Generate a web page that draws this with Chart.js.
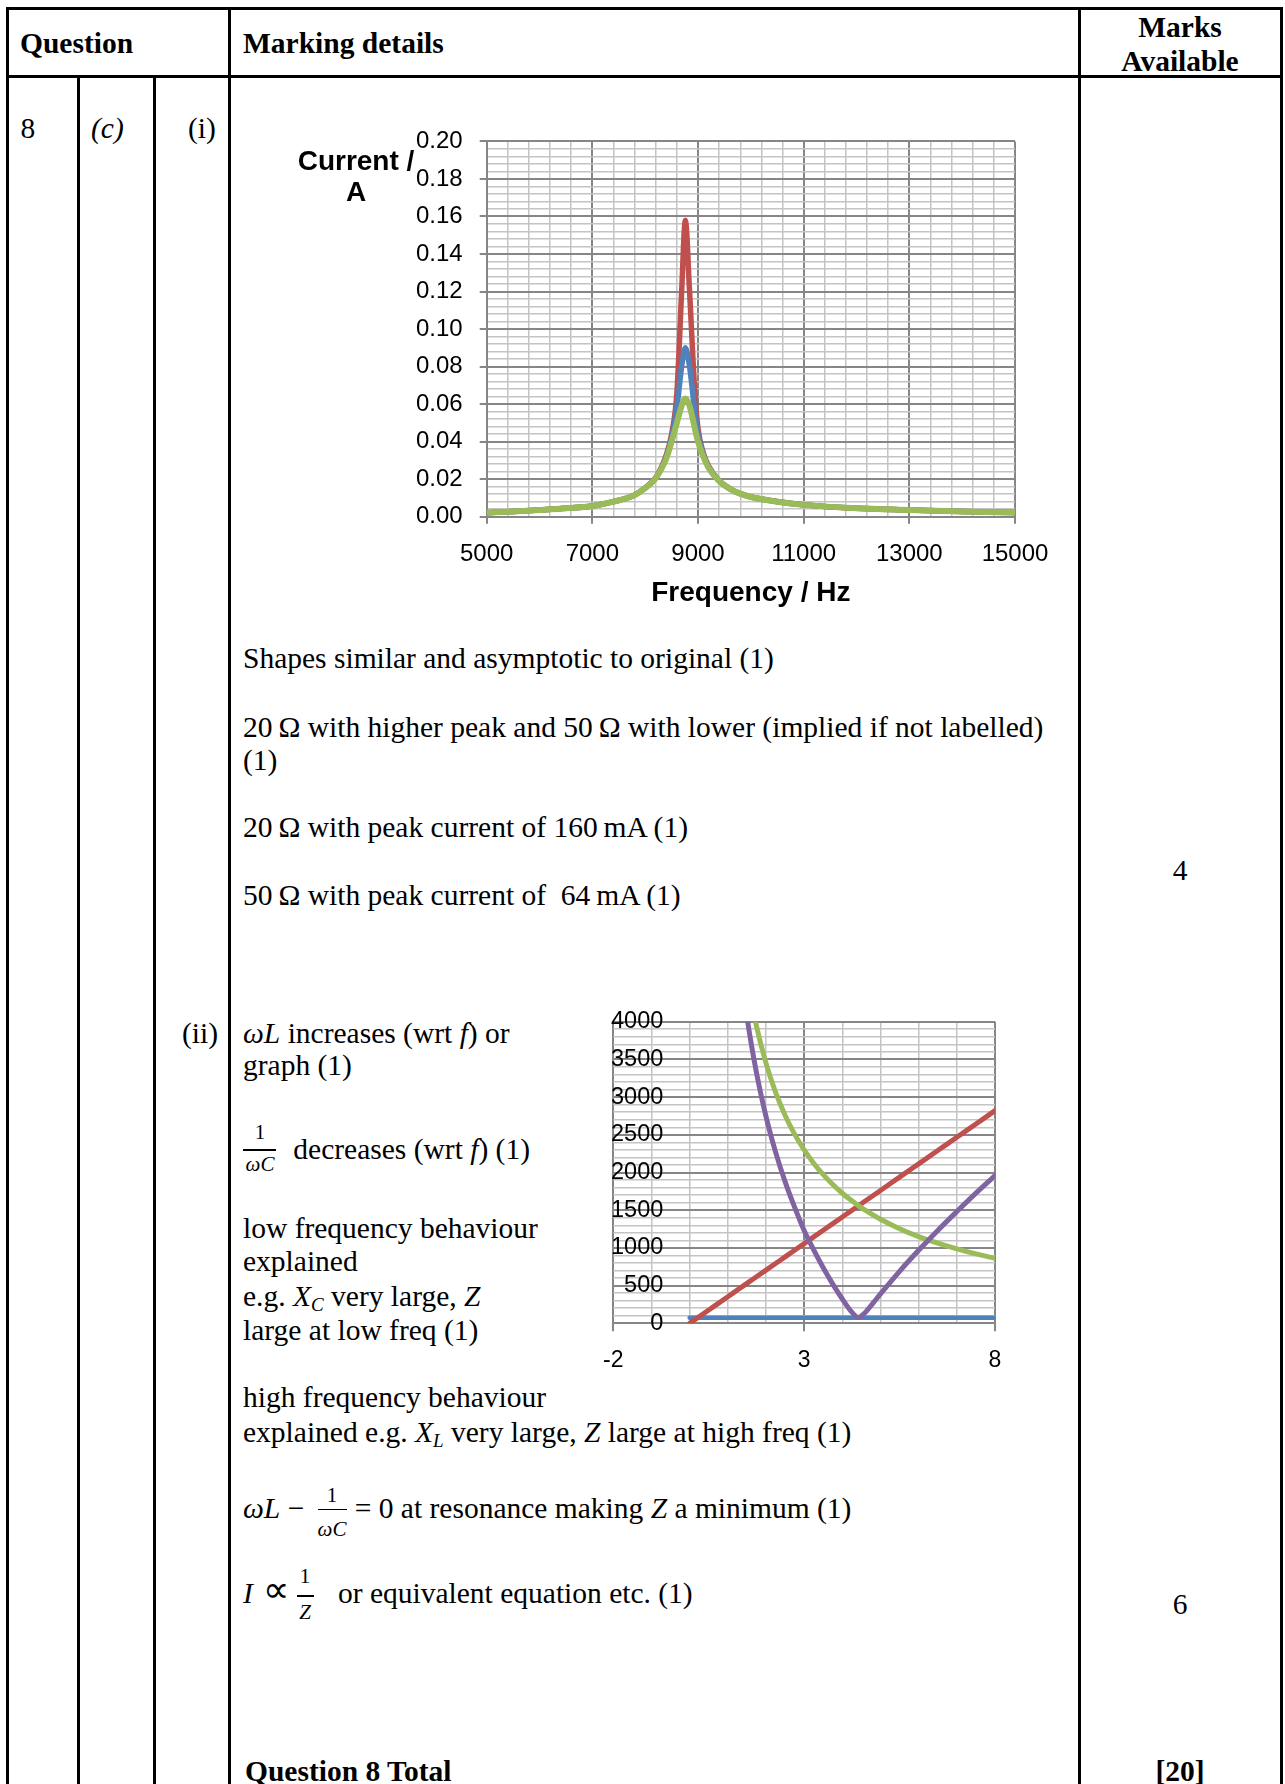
<!DOCTYPE html>
<html>
<head>
<meta charset="utf-8">
<script src="https://cdn.jsdelivr.net/npm/chart.js@4.4.1/dist/chart.umd.min.js"></script>
<style>
  html, body { margin: 0; padding: 0; background: #fff; }
  #page { position: relative; width: 1285px; height: 1784px; overflow: hidden;
          font-family: 'Liberation Serif', 'Times New Roman', serif; color: #000; }
  .ln { position: absolute; background: #000; }
  .t { position: absolute; font-size: 29.5px; line-height: 29.5px; white-space: nowrap; }
  .b { font-weight: bold; }
  .c { text-align: center; width: 200px; }
  .fr { position: absolute; font-size: 21px; line-height: 21px; width: 34px; text-align: center; white-space: nowrap; }
  .bar { position: absolute; background: #000; height: 1.6px; }
  sub { font-size: 19px; line-height: 0; vertical-align: -5px; }
  canvas { position: absolute; }
  .ax { position: absolute; z-index: 2; font-family: 'Liberation Sans', Arial, sans-serif; font-weight: bold;
        font-size: 28px; line-height: 31.7px; width: 200px; text-align: center; }
</style>
</head>
<body>
<div id="page">
  <!-- table rules -->
  <div class="ln" style="left:6px;top:7px;width:1276px;height:3px"></div>
  <div class="ln" style="left:6px;top:75px;width:1276px;height:3px"></div>
  <div class="ln" style="left:6px;top:7px;width:3px;height:1777px"></div>
  <div class="ln" style="left:77px;top:75px;width:3px;height:1709px"></div>
  <div class="ln" style="left:152.5px;top:75px;width:3px;height:1709px"></div>
  <div class="ln" style="left:228px;top:7px;width:3px;height:1777px"></div>
  <div class="ln" style="left:1078px;top:7px;width:3px;height:1777px"></div>
  <div class="ln" style="left:1279.5px;top:7px;width:3px;height:1777px"></div>

  <!-- header -->
  <div class="t b" style="left:20px;top:29.3px">Question</div>
  <div class="t b" style="left:243px;top:29.3px">Marking details</div>
  <div class="t b c" style="left:1080px;top:13px">Marks</div>
  <div class="t b c" style="left:1080px;top:47px">Available</div>

  <div class="t" style="left:20.5px;top:114.3px">8</div>
  <div class="t" style="left:91px;top:114.3px"><i>(c)</i></div>
  <div class="t" style="left:188px;top:114.3px">(i)</div>

  <!-- chart (i) -->
  <canvas id="currentChart" width="675" height="500" style="left:400px;top:110px"></canvas>
  <div class="ax" style="left:256px;top:144.5px">Current /<br>A</div>

  <div class="t" style="left:243px;top:643.6px">Shapes similar and asymptotic to original (1)</div>
  <div class="t" style="left:243px;top:712.8px">20&#8201;&Omega; with higher peak and 50&#8201;&Omega; with lower (implied if not labelled)</div>
  <div class="t" style="left:243px;top:746.2px">(1)</div>
  <div class="t" style="left:243px;top:813.2px">20&#8201;&Omega; with peak current of 160&#8201;mA (1)</div>
  <div class="t" style="left:243px;top:881.1px">50&#8201;&Omega; with peak current of &nbsp;64&#8201;mA (1)</div>
  <div class="t c" style="left:1080px;top:856px">4</div>

  <!-- part (ii) -->
  <div class="t" style="left:182px;top:1018.6px">(ii)</div>
  <div class="t" style="left:243px;top:1018.6px"><i>&omega;L</i> increases (wrt <i>f</i>) or</div>
  <div class="t" style="left:243px;top:1050.8px">graph (1)</div>

  <div class="fr" style="left:243px;top:1122px">1</div>
  <div class="bar" style="left:243.3px;top:1149px;width:32.7px"></div>
  <div class="fr" style="left:243px;top:1153.5px"><i>&omega;C</i></div>
  <div class="t" style="left:293.3px;top:1134.6px">decreases (wrt <i>f</i>) (1)</div>

  <div class="t" style="left:243px;top:1213.6px">low frequency behaviour</div>
  <div class="t" style="left:243px;top:1246.5px">explained</div>
  <div class="t" style="left:243px;top:1281.5px">e.g. <i>X</i><sub><i>C</i></sub> very large, <i>Z</i></div>
  <div class="t" style="left:243px;top:1315.8px">large at low freq (1)</div>

  <canvas id="reactanceChart" width="440" height="400" style="left:580px;top:990px"></canvas>

  <div class="t" style="left:243px;top:1383.1px">high frequency behaviour</div>
  <div class="t" style="left:243px;top:1417.6px">explained e.g. <i>X</i><sub><i>L</i></sub> very large, <i>Z</i> large at high freq (1)</div>

  <div class="t" style="left:243px;top:1494.3px"><i>&omega;L</i> &minus;</div>
  <div class="fr" style="left:315px;top:1485px">1</div>
  <div class="bar" style="left:317.6px;top:1508.5px;width:29px"></div>
  <div class="fr" style="left:315px;top:1518.5px"><i>&omega;C</i></div>
  <div class="t" style="left:354.7px;top:1494.3px">= 0 at resonance making <i>Z</i> a minimum (1)</div>

  <div class="t" style="left:243px;top:1578.6px"><i>I</i></div>
  <div style="position:absolute;left:263px;top:1571px;font-family:'DejaVu Sans';font-size:37px;line-height:37px">&prop;</div>
  <div class="fr" style="left:288px;top:1565.7px">1</div>
  <div class="bar" style="left:296.5px;top:1595px;width:17px;height:2.2px"></div>
  <div class="fr" style="left:288px;top:1602.4px"><i>Z</i></div>
  <div class="t" style="left:338px;top:1578.6px">or equivalent equation etc. (1)</div>
  <div class="t c" style="left:1080px;top:1590.3px">6</div>

  <div class="t b" style="left:245px;top:1756.8px">Question 8 Total</div>
  <div class="t b c" style="left:1080px;top:1757.3px">[20]</div>
</div>

<script>
// (i) current against frequency, three resistances
const freqHz = [5000, 5500, 6000, 6500, 7000, 7400, 7800, 8000, 8200, 8300,
                8400, 8500, 8600, 8690, 8760, 8840, 8940, 9000, 9100, 9200,
                9400, 9600, 9800, 10000, 10500, 11000, 12000, 13000, 14000, 15000];
const current20 = [0.0021, 0.0028, 0.0036, 0.0045, 0.0057, 0.0080, 0.0116, 0.0154, 0.0209, 0.0260,
                   0.033, 0.044, 0.066, 0.120, 0.158, 0.120, 0.066, 0.047, 0.034, 0.027,
                   0.0192, 0.0150, 0.0123, 0.0106, 0.0081, 0.0064, 0.0045, 0.0036, 0.0028, 0.0022];
const currentOrig = [0.0021, 0.0028, 0.0036, 0.0045, 0.0057, 0.0080, 0.0115, 0.0153, 0.0207, 0.0256,
                     0.032, 0.042, 0.058, 0.080, 0.090, 0.080, 0.056, 0.044, 0.033, 0.0265,
                     0.0191, 0.0149, 0.0122, 0.0105, 0.0080, 0.0063, 0.0045, 0.0036, 0.0028, 0.0022];
const current50 = [0.0021, 0.0028, 0.0036, 0.0045, 0.0057, 0.0080, 0.0115, 0.0152, 0.0205, 0.0252,
                   0.031, 0.040, 0.050, 0.059, 0.063, 0.059, 0.047, 0.040, 0.032, 0.026,
                   0.0190, 0.0148, 0.0122, 0.0105, 0.0080, 0.0063, 0.0045, 0.0036, 0.0028, 0.0022];

// (ii) reactances and impedance
const xVals = [0, 0.5, 1, 1.25, 1.5, 1.75, 2, 2.25, 2.5, 2.75, 3, 3.25, 3.5,
               3.75, 4, 4.25, 4.42, 4.6, 4.8, 5, 5.5, 6, 6.5, 7, 7.5, 8];
const resistance = [75, 75, 75, 75, 75, 75, 75, 75, 75, 75, 75, 75, 75,
                    75, 75, 75, 75, 75, 75, 75, 75, 75, 75, 75, 75, 75];
const reactL = [0, 176, 352, 441, 529, 617, 705, 793, 881, 969, 1057, 1146, 1234,
                1322, 1410, 1498, 1558, 1622, 1692, 1762, 1939, 2115, 2291, 2467, 2644, 2820];
const reactC = [null, null, null, 5520, 4600, 3943, 3450, 3067, 2760, 2509, 2300, 2123, 1971,
                1840, 1725, 1624, 1561, 1500, 1438, 1380, 1255, 1150, 1062, 986, 920, 862];
const impedance = [null, null, null, 5080, 4071, 3326, 2745, 2274, 1879, 1540, 1230, 975, 737,
                   520, 322, 148, 78, 143, 265, 390, 690, 968, 1232, 1482, 1726, 1960];

const MAJOR = '#868686';
const MINOR = '#c4c4c4';

function pts(xs, ys) {
    return xs.map((x, i) => ({ x: x, y: ys[i] })).filter(p => p.y !== null);
}
function stepTicks(min, max, step) {
    const out = [];
    for (let v = min; v <= max + step / 2; v += step) out.push({ value: +v.toFixed(6) });
    return out;
}
function gridFor(isMajor, tickLen) {
    return {
        color: ctx => (ctx.tick && isMajor(ctx.tick.value)) ? MAJOR : MINOR,
        lineWidth: ctx => (ctx.tick && isMajor(ctx.tick.value)) ? 2 : 1.5,
        tickColor: ctx => (ctx.tick && isMajor(ctx.tick.value)) ? MAJOR : 'rgba(0,0,0,0)',
        tickLength: tickLen,
        drawTicks: tickLen > 0
    };
}
function line(label, data, color, width, order) {
    return {
        label: label, data: data, borderColor: color, backgroundColor: color,
        borderWidth: width, pointRadius: 0, fill: false, order: order,
        cubicInterpolationMode: 'monotone', borderCapStyle: 'round', borderJoinStyle: 'round'
    };
}

const majX1 = v => Math.round(v - 5000) % 2000 === 0;
const majY1 = v => Math.round(v * 1000) % 20 === 0;
const majX2 = v => (Math.round(v) + 2) % 5 === 0;
const majY2 = v => Math.round(v) % 500 === 0;

new Chart(document.getElementById('currentChart'), {
    type: 'line',
    data: {
        datasets: [
            line('20 Ω', pts(freqHz, current20), '#C0504D', 5.5, 3),
            line('original', pts(freqHz, currentOrig), '#4F81BD', 5.5, 2),
            line('50 Ω', pts(freqHz, current50), '#9BBB59', 6, 1)
        ]
    },
    options: {
        responsive: false, animation: false, devicePixelRatio: 1,
        layout: { padding: { left: 0, top: 30.7, right: 60, bottom: 0 } },
        plugins: { legend: { display: false }, tooltip: { enabled: false } },
        scales: {
            x: {
                type: 'linear', min: 5000, max: 15000,
                afterBuildTicks: a => { a.ticks = stepTicks(5000, 15000, 400); },
                afterFit: a => { a.height = 93.3; },
                grid: gridFor(majX1, 7),
                border: { color: MAJOR, width: 2 },
                ticks: {
                    autoSkip: false, maxRotation: 0, padding: 16, color: '#000',
                    font: { family: 'Liberation Sans', size: 24 },
                    callback: v => majX1(v) ? String(v) : ''
                },
                title: {
                    display: true, text: 'Frequency / Hz', color: '#000',
                    font: { family: 'Liberation Sans', size: 28, weight: 'bold' },
                    padding: { top: 0, bottom: 0 }
                }
            },
            y: {
                min: 0, max: 0.2,
                afterBuildTicks: a => { a.ticks = stepTicks(0, 0.2, 0.004); },
                afterFit: a => { a.width = 86.7; },
                grid: gridFor(majY1, 7),
                border: { color: MAJOR, width: 2 },
                ticks: {
                    autoSkip: false, padding: 17, color: '#000',
                    font: { family: 'Liberation Sans', size: 24 },
                    callback: v => majY1(v) ? v.toFixed(2) : ''
                }
            }
        }
    }
});

new Chart(document.getElementById('reactanceChart'), {
    type: 'line',
    data: {
        datasets: [
            line('R', pts(xVals, resistance), '#4F81BD', 4.5, 4),
            line('ωL', pts(xVals, reactL), '#C0504D', 5, 3),
            line('1/ωC', pts(xVals, reactC), '#9BBB59', 5, 2),
            line('Z', pts(xVals, impedance), '#8064A2', 5, 1)
        ]
    },
    options: {
        responsive: false, animation: false, devicePixelRatio: 1,
        layout: { padding: { left: 33.3, top: 31.7, right: 25, bottom: 0 } },
        plugins: { legend: { display: false }, tooltip: { enabled: false } },
        scales: {
            x: {
                type: 'linear', min: -2, max: 8,
                afterBuildTicks: a => { a.ticks = stepTicks(-2, 8, 1); },
                afterFit: a => { a.height = 66.7; },
                grid: gridFor(majX2, 8),
                border: { color: MAJOR, width: 2 },
                ticks: {
                    autoSkip: false, maxRotation: 0, padding: 15.5, color: '#000',
                    font: { family: 'Liberation Sans', size: 23 },
                    callback: v => majX2(v) ? String(v) : ''
                }
            },
            y: {
                position: { x: -0.69 },
                min: 0, max: 4000,
                afterBuildTicks: a => { a.ticks = stepTicks(0, 4000, 100); },
                grid: gridFor(majY2, 0),
                border: { display: false },
                ticks: {
                    autoSkip: false, padding: 0, color: '#000',
                    font: { family: 'Liberation Sans', size: 23.5 },
                    callback: v => majY2(v) ? String(v) : ''
                }
            }
        }
    }
});
</script>
</body>
</html>
